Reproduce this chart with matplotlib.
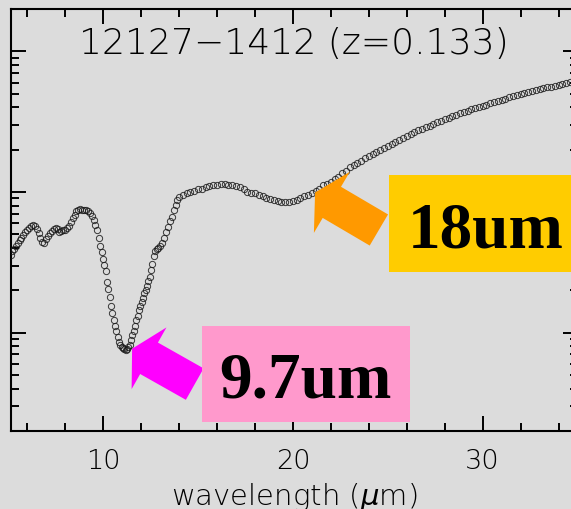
import matplotlib.pyplot as plt
from matplotlib.patches import FancyArrowPatch, Rectangle
from matplotlib.ticker import MultipleLocator, NullFormatter

# short-low part of the spectrum (5-14 um)
sl_wave = [5.15, 5.2, 5.3, 5.4, 5.5, 5.6, 5.7, 5.8, 5.9, 6.0, 6.1, 6.2, 6.3, 6.4, 6.5,
           6.6, 6.7, 6.8, 6.9, 7.0, 7.1, 7.2, 7.3, 7.4, 7.5, 7.6, 7.7, 7.8, 7.9, 8.0,
           8.1, 8.2, 8.3, 8.4, 8.5, 8.6, 8.7, 8.8, 8.9, 9.0, 9.1, 9.2, 9.3, 9.4, 9.5,
           9.6, 9.7,
           9.78, 9.85, 9.92, 10.0, 10.07, 10.14, 10.21, 10.28, 10.35, 10.42, 10.49,
           10.56, 10.63, 10.7, 10.77, 10.84, 10.91, 10.98, 11.05, 11.12, 11.19, 11.26,
           11.33, 11.4, 11.47, 11.54, 11.61, 11.68, 11.75, 11.82, 11.9, 11.97, 12.04,
           12.11, 12.18, 12.25, 12.32, 12.39, 12.46, 12.53, 12.6, 12.67, 12.74, 12.82,
           12.92, 13.02, 13.12, 13.22, 13.32, 13.42, 13.52, 13.62, 13.72, 13.82, 13.92,
           14.02]
sl_flux = [0.0359, 0.0383, 0.0396, 0.0416, 0.0437, 0.0459, 0.0474, 0.0498, 0.0523, 0.0541,
           0.0559, 0.0578, 0.0587, 0.0578, 0.0550, 0.0515, 0.0474, 0.0444, 0.0437, 0.0467,
           0.0490, 0.0515, 0.0532, 0.0550, 0.0559, 0.0550, 0.0523, 0.0532, 0.0541, 0.0541,
           0.0559, 0.0578, 0.0617, 0.0658, 0.0692, 0.0727, 0.0751, 0.0763, 0.0751, 0.0751,
           0.0739, 0.0727, 0.0715, 0.0680, 0.0637, 0.0587, 0.0541,
           0.0474, 0.0416, 0.0377, 0.0336, 0.0305, 0.0276, 0.0231, 0.0206, 0.0180, 0.0156,
           0.0139, 0.0124, 0.0112, 0.0102, 0.00937, 0.00863, 0.00821, 0.00795, 0.00782,
           0.00769, 0.00757, 0.00769, 0.00795, 0.00821, 0.00892, 0.00967, 0.0103, 0.0112,
           0.0124, 0.0132, 0.0146, 0.0156, 0.0164, 0.0175, 0.0190, 0.0202, 0.0213, 0.0234,
           0.0250, 0.0281, 0.0310, 0.0353, 0.0383, 0.0396, 0.0403, 0.0416, 0.0437, 0.0474,
           0.0523, 0.0568, 0.0627, 0.0669, 0.0751, 0.0815, 0.0884, 0.0929]

# long-low part (14-35 um)
ll_wave = [14.2, 14.4, 14.6, 14.8, 15.0, 15.2, 15.4, 15.6, 15.8, 16.0, 16.2, 16.4, 16.6,
           16.8, 17.0, 17.2, 17.4, 17.6, 17.8, 18.0, 18.2, 18.4, 18.6, 18.8, 19.0, 19.2,
           19.4, 19.6, 19.8, 20.0, 20.2, 20.4, 20.6, 20.8, 21.0, 21.2, 21.4, 21.6, 21.8,
           22.0, 22.2, 22.4, 22.6, 22.8, 23.0, 23.2, 23.4, 23.6, 23.8, 24.0, 24.2, 24.4,
           24.6, 24.8, 25.0, 25.2, 25.4, 25.6, 25.8, 26.0, 26.2, 26.4, 26.6, 26.8, 27.0,
           27.2, 27.4, 27.6, 27.8, 28.0, 28.2, 28.4, 28.6, 28.8, 29.0, 29.2, 29.4, 29.6,
           29.8, 30.0, 30.2, 30.4, 30.6, 30.8, 31.0, 31.2, 31.4, 31.6, 31.8, 32.0, 32.2,
           32.4, 32.6, 32.8, 33.0, 33.2, 33.4, 33.6, 33.8, 34.0, 34.2, 34.4, 34.6]
ll_flux = [0.0960, 0.0992, 0.1008, 0.1025, 0.1042, 0.1059, 0.1077, 0.1095, 0.1113, 0.1113,
           0.1131, 0.1131, 0.1113, 0.1113, 0.1095, 0.1077, 0.1042, 0.1008, 0.0992, 0.0976,
           0.0960, 0.0944, 0.0914, 0.0899, 0.0884, 0.0870, 0.0856, 0.0856, 0.0856, 0.0870,
           0.0884, 0.0914, 0.0944, 0.0960, 0.0992, 0.1025, 0.1059, 0.1113, 0.1149, 0.1187,
           0.1247, 0.1289, 0.1354, 0.1422, 0.1494, 0.1544, 0.1595, 0.1675, 0.1731, 0.1789,
           0.1849, 0.1911, 0.1974, 0.2040, 0.2108, 0.2178, 0.2251, 0.2326, 0.2403, 0.2483,
           0.2566, 0.2651, 0.2740, 0.2785, 0.2878, 0.2925, 0.3023, 0.3124, 0.3175, 0.3281,
           0.3335, 0.3446, 0.3503, 0.3621, 0.3681, 0.3741, 0.3866, 0.3930, 0.3995, 0.4061,
           0.4128, 0.4265, 0.4335, 0.4407, 0.4480, 0.4554, 0.4706, 0.4784, 0.4863, 0.4943,
           0.5024, 0.5107, 0.5192, 0.5278, 0.5365, 0.5454, 0.5544, 0.5544, 0.5636, 0.5729,
           0.5823, 0.5920, 0.6017]

title = '12127\u22121412 (z=0.133)'
bg = '#dcdcdc'

plt.rcParams['font.family'] = ['DejaVu Sans']
plt.rcParams['font.weight'] = 'light'

fig = plt.figure(figsize=(5.71, 5.10), dpi=100, facecolor=bg)
ax = fig.add_axes([11 / 571, 78 / 510, 566.6 / 571, 422 / 510])
ax.set_facecolor(bg)

ax.plot(sl_wave + ll_wave, sl_flux + ll_flux, 'o', mfc='none', mec='#1a1a1a',
        ms=4.5, mew=0.7, alpha=0.85, zorder=3)

ax.set_yscale('log')
ax.set_xlim(5.15, 35)
ax.set_ylim(0.002, 2)
ax.xaxis.set_major_locator(MultipleLocator(10))
ax.xaxis.set_minor_locator(MultipleLocator(2))
ax.yaxis.set_major_formatter(NullFormatter())
ax.yaxis.set_minor_formatter(NullFormatter())

ax.tick_params(which='both', direction='in', top=True, right=True, color='black', width=1.4)
ax.tick_params(which='major', length=11, labelsize=19.5, pad=12)
ax.tick_params(which='minor', length=6)
for s in ax.spines.values():
    s.set_linewidth(1.5)
    s.set_color('black')

ax.set_xlabel('wavelength ($\\mu$m)', fontsize=21, fontweight='light', va='baseline')
ax.xaxis.set_label_coords(0.5, -73 / 422)

ax.text(0.5, 0.896, title, transform=ax.transAxes, ha='center', va='baseline', fontsize=26)

# arrows pointing at the features
arrow_style = 'simple,head_length=14,head_width=51,tail_width=26'
ax.add_patch(FancyArrowPatch((24.53, 0.0537), (21.17, 0.0992), arrowstyle=arrow_style,
                             mutation_scale=1, color='#ff9900', lw=0, shrinkA=0, shrinkB=0,
                             zorder=5, clip_on=False))
ax.add_patch(FancyArrowPatch((14.83, 0.00431), (11.53, 0.00769), arrowstyle=arrow_style,
                             mutation_scale=1, color='#ff00ff', lw=0, shrinkA=0, shrinkB=0,
                             zorder=5, clip_on=False))

# label boxes
fig.add_artist(Rectangle((389 / 571, 237 / 510), 190 / 571, 97 / 510,
                         transform=fig.transFigure, facecolor='#ffcc00', edgecolor='none'))
fig.text(486 / 571, 262 / 510, '18um', ha='center', va='baseline', fontsize=47,
         fontweight='bold', family='Liberation Serif')
fig.add_artist(Rectangle((202 / 571, 87 / 510), 208 / 571, 96 / 510,
                         transform=fig.transFigure, facecolor='#ff99cc', edgecolor='none'))
fig.text(305 / 571, 112 / 510, '9.7um', ha='center', va='baseline', fontsize=47,
         fontweight='bold', family='Liberation Serif')

plt.savefig('out.png', dpi=100, facecolor=bg)
